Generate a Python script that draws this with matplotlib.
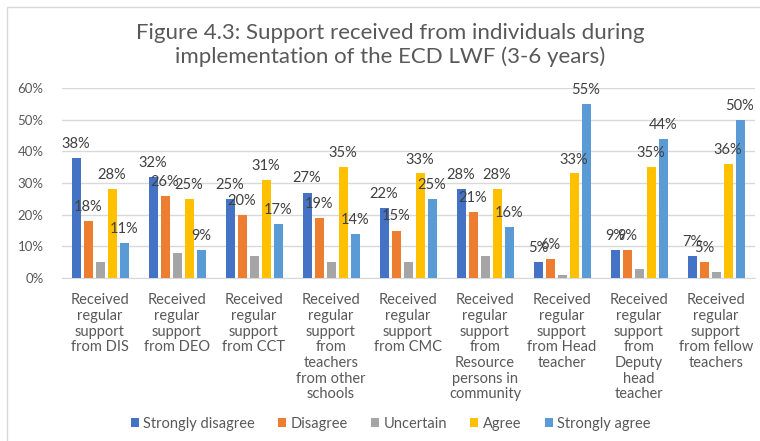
import matplotlib
matplotlib.use("Agg")
import matplotlib.pyplot as plt
import numpy as np
from matplotlib.patches import Rectangle

categories = [
    "Received\nregular\nsupport\nfrom DIS",
    "Received\nregular\nsupport\nfrom DEO",
    "Received\nregular\nsupport\nfrom CCT",
    "Received\nregular\nsupport\nfrom\nteachers\nfrom other\nschools",
    "Received\nregular\nsupport\nfrom CMC",
    "Received\nregular\nsupport\nfrom\nResource\npersons in\ncommunity",
    "Received\nregular\nsupport\nfrom Head\nteacher",
    "Received\nregular\nsupport\nfrom\nDeputy\nhead\nteacher",
    "Received\nregular\nsupport\nfrom fellow\nteachers",
]
series_names = ["Strongly disagree", "Disagree", "Uncertain", "Agree", "Strongly agree"]
strongly_disagree = [38, 32, 25, 27, 22, 28, 5, 9, 7]
disagree = [18, 26, 20, 19, 15, 21, 6, 9, 5]
uncertain = [5, 8, 7, 5, 5, 7, 1, 3, 2]
agree = [28, 25, 31, 35, 33, 28, 33, 35, 36]
strongly_agree = [11, 9, 17, 14, 25, 16, 55, 44, 50]
yticks = [0, 10, 20, 30, 40, 50, 60]

series = [strongly_disagree, disagree, uncertain, agree, strongly_agree]
colors = ["#4472C4", "#ED7D31", "#A5A5A5", "#FFC000", "#5B9BD5"]
show_labels = [True, True, False, True, True]

plt.rcParams["font.family"] = ["Lato", "DejaVu Sans"]

fig = plt.figure(figsize=(7.6, 4.41), dpi=100)
fig.patch.set_facecolor("white")
ax = fig.add_axes([61.5 / 760, 1 - 278 / 441, 693 / 760, 190 / 441])

x = np.arange(len(categories))
pitch = 12 / 77
width = 9 / 77
for i, (vals, col, lab) in enumerate(zip(series, colors, show_labels)):
    pos = x + (i - 2) * pitch
    bars = ax.bar(pos, vals, width=width, color=col, label=series_names[i], zorder=3)
    if lab:
        for b, v in zip(bars, vals):
            ax.annotate(f"{v}%", (b.get_x() + b.get_width() / 2, v),
                        xytext=(0, 7), textcoords="offset pixels",
                        ha="center", va="bottom", fontsize=10.5, color="#404040", zorder=4)

ax.set_xlim(-0.5, len(categories) - 0.5)
ax.set_ylim(0, 60)
ax.set_yticks(yticks)
ax.set_yticklabels([f"{t}%" for t in yticks], fontsize=9.5, color="#595959")
ax.yaxis.grid(True, color="#D9D9D9", linewidth=1, zorder=0)
ax.set_axisbelow(True)
ax.tick_params(axis="y", length=0, pad=13)
ax.tick_params(axis="x", length=0, pad=11)
ax.set_xticks(x)
ax.set_xticklabels(categories, fontsize=10.5, color="#595959", linespacing=1.15, va="top")
for s in ["left", "right", "top"]:
    ax.spines[s].set_visible(False)
ax.spines["bottom"].set_color("#D9D9D9")

fig.text(0.513, 1 - 45 / 441,
         "Figure 4.3: Support received from individuals during\nimplementation of the ECD LWF (3-6 years)",
         ha="center", va="center", fontsize=16, color="#595959", linespacing=1.25)

leg = fig.legend(loc="center", bbox_to_anchor=(0.514, 1 - 424 / 441), ncol=5, frameon=False,
                 fontsize=10.5, handlelength=0.55, handleheight=0.55, handletextpad=0.3,
                 columnspacing=1.6)
for t in leg.get_texts():
    t.set_color("#595959")

fig.patches.append(Rectangle((7 / 760, -0.05), 1.0, 1 - 7 / 441 + 0.05, transform=fig.transFigure,
                             fill=False, edgecolor="#D9D9D9", linewidth=1))

fig.savefig("out.png", dpi=100)
